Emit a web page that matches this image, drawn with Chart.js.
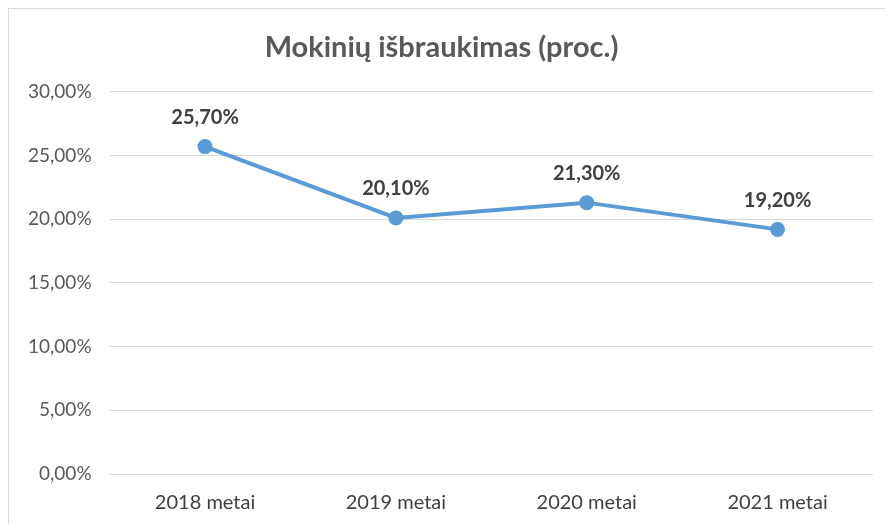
<!DOCTYPE html>
<html>
<head>
<meta charset="utf-8">
<script src="https://cdn.jsdelivr.net/npm/chart.js@4/dist/chart.umd.min.js"></script>
<style>
  html, body { margin: 0; padding: 0; background: #fff; overflow: hidden; }
  #frame {
    position: absolute; left: 8px; top: 8px; width: 900px; height: 540px;
    border: 1px solid #d9d9d9; box-sizing: border-box;
  }
  #wrap { position: absolute; left: 0; top: 0; width: 885px; height: 524px; }
</style>
</head>
<body>
<div id="frame"></div>
<div id="wrap"><canvas id="chart"></canvas></div>
<script>
const categories = ['2018 metai', '2019 metai', '2020 metai', '2021 metai'];
const values = [25.7, 20.1, 21.3, 19.2];
const yTicks = [0, 5, 10, 15, 20, 25, 30];
const title = 'Mokinių išbraukimas (proc.)';

const FONT = "Lato, 'Open Sans', 'Liberation Sans', sans-serif";

function pct(v) {
    return v.toFixed(2).replace('.', ',') + '%';
}

// draws the value above each point
const valueLabels = {
    id: 'valueLabels',
    afterDatasetsDraw(chart) {
        const ctx = chart.ctx;
        const meta = chart.getDatasetMeta(0);
        ctx.save();
        ctx.font = 'bold 20px ' + FONT;
        ctx.fillStyle = '#404040';
        ctx.textAlign = 'center';
        ctx.textBaseline = 'middle';
        meta.data.forEach((pt, i) => {
            ctx.fillText(pct(values[i]), pt.x, pt.y - 29);
        });
        ctx.restore();
    }
};

new Chart(document.getElementById('chart'), {
    type: 'line',
    data: {
        labels: categories,
        datasets: [{
            data: values,
            borderColor: '#5b9bd5',
            backgroundColor: '#5b9bd5',
            borderWidth: 4,
            pointRadius: 5.5,
            pointHoverRadius: 5.5,
            tension: 0
        }]
    },
    options: {
        responsive: true,
        maintainAspectRatio: false,
        animation: false,
        layout: { padding: { left: 10, right: 12, top: 30, bottom: 0 } },
        plugins: {
            legend: { display: false },
            tooltip: { enabled: false },
            title: {
                display: true,
                text: title,
                color: '#595959',
                font: { family: FONT, size: 29, weight: 'bold' },
                padding: { top: 0, bottom: 27 }
            }
        },
        scales: {
            x: {
                offset: true,
                grid: { display: false },
                border: { display: false },
                ticks: {
                    color: '#404040',
                    font: { family: FONT, size: 20 },
                    padding: 9
                }
            },
            y: {
                min: 0,
                max: 30,
                afterBuildTicks(axis) {
                    axis.ticks = yTicks.map(v => ({ value: v }));
                },
                grid: { color: '#d9d9d9', lineWidth: 1, drawTicks: false },
                border: { display: false },
                ticks: {
                    color: '#595959',
                    font: { family: FONT, size: 19 },
                    padding: 18,
                    callback: v => pct(v)
                }
            }
        }
    },
    plugins: [valueLabels]
});
</script>
</body>
</html>
